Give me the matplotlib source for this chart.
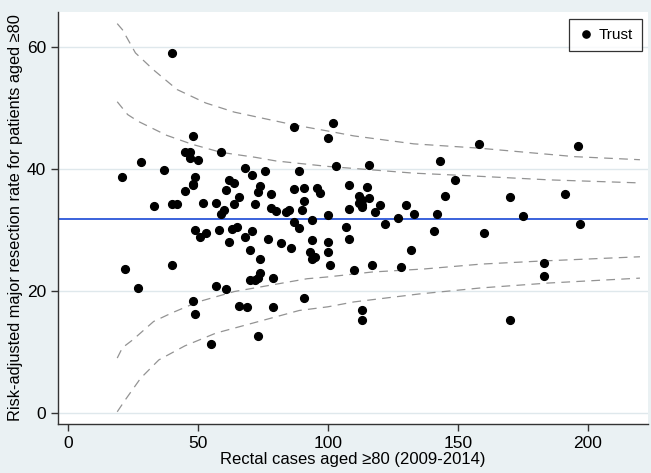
import matplotlib
matplotlib.use("Agg")
import matplotlib.pyplot as plt
from matplotlib.lines import Line2D

plt.rcParams['font.family'] = ['Liberation Sans', 'DejaVu Sans']

# === data ===
cases = [40, 21, 28, 37, 48, 45, 47, 47, 50, 49, 59, 68, 71, 76, 87, 89, 100, 102, 103, 116,
         143, 149, 158, 196, 62, 64,
         48, 48, 45, 33, 40, 42, 52, 57, 60, 59, 61, 66, 64, 72, 73, 74, 78, 78, 80, 84, 85,
         87, 91, 91, 90, 96, 97, 94, 100, 108, 115, 112, 113, 116, 112, 113, 113, 120, 108,
         118, 130, 133, 127, 145, 142, 170, 175, 191,
         87, 89, 122, 107, 141, 160, 197, 49, 51, 53, 58, 62, 63, 65, 68, 71, 70, 74, 77, 82,
         86, 94, 93, 94, 95, 100, 100, 101, 108, 110, 117, 128, 132, 183, 22, 40,
         27, 48, 49, 55, 57, 61, 66, 69, 73, 79, 91, 70, 72, 73, 74, 79, 113, 113, 170, 183]
rates = [59.0, 38.7, 41.1, 39.8, 45.4, 42.8, 42.8, 41.8, 41.5, 38.6, 42.8, 40.2, 39.0, 39.7,
         46.8, 39.7, 45.0, 47.5, 40.4, 40.7, 41.3, 38.2, 44.1, 43.7, 38.2, 37.7,
         37.6, 37.3, 36.4, 33.9, 34.2, 34.2, 34.4, 34.4, 33.2, 32.6, 36.5, 35.4, 34.3, 34.3,
         36.2, 37.2, 35.9, 33.6, 33.1, 33.0, 33.2, 36.7, 36.9, 34.8, 33.3, 36.8, 36.1, 31.6,
         32.5, 37.4, 37.0, 35.5, 34.9, 35.3, 34.4, 34.1, 33.8, 34.1, 33.4, 32.9, 34.0, 32.6,
         32.0, 35.5, 32.6, 35.4, 32.2, 35.9,
         31.3, 30.3, 30.9, 30.5, 29.8, 29.5, 31.0, 30.0, 28.8, 29.5, 30.0, 28.0, 30.2, 30.5,
         28.9, 29.8, 26.7, 25.2, 28.5, 27.9, 27.0, 28.3, 26.4, 25.2, 25.5, 28.0, 26.4, 24.3,
         28.5, 23.5, 24.3, 23.9, 26.7, 24.6, 23.6, 24.3,
         20.5, 18.3, 16.2, 11.3, 20.8, 20.4, 17.6, 17.4, 12.6, 17.4, 18.9, 21.8, 21.8, 22.1,
         23.0, 22.1, 16.9, 15.2, 15.2, 22.5]

mean_rate = 31.8

outer_up_n = [19, 21, 26, 33, 42, 53, 64, 76, 87, 100, 110, 133, 158, 195, 220]
outer_up = [63.8, 62.8, 59.0, 56.2, 53.0, 50.8, 49.3, 48.2, 47.2, 46.2, 45.4, 44.1, 43.4, 42.0, 41.5]

inner_up_n = [19, 23, 27, 38, 48, 59, 72, 80, 100, 133, 153, 185, 220]
inner_up = [51.0, 48.9, 47.8, 45.5, 44.0, 42.7, 41.9, 41.3, 40.4, 39.3, 38.9, 38.2, 37.7]

inner_lo_n = [19, 21, 25, 33, 40, 50, 64, 76, 92, 100, 117, 137, 159, 182, 220]
inner_lo = [9.0, 10.7, 12.0, 15.0, 16.4, 18.2, 19.9, 20.8, 22.0, 22.3, 23.1, 23.6, 24.4, 24.9, 25.6]

outer_lo_n = [19, 22, 28, 35, 45, 57, 70, 89, 100, 110, 135, 159, 185, 220]
outer_lo = [0.2, 2.1, 5.7, 8.7, 11.0, 13.1, 14.6, 16.8, 17.4, 18.2, 19.5, 20.5, 21.3, 22.1]

# === figure ===
bg = "#eaf1f3"
fig = plt.figure(figsize=(6.51, 4.73), dpi=100, facecolor=bg)
ax = fig.add_axes([0.089, 0.1036, 0.906, 0.871])
ax.set_facecolor("white")

for yv in [0, 20, 40, 60]:
    ax.axhline(yv, color="#dfe8ec", lw=1.0, zorder=0)

lim_style = dict(color="#939393", lw=0.9, dashes=(7, 5), zorder=1)
ax.plot(outer_up_n, outer_up, **lim_style)
ax.plot(inner_up_n, inner_up, **lim_style)
ax.plot(inner_lo_n, inner_lo, **lim_style)
ax.plot(outer_lo_n, outer_lo, **lim_style)

ax.axhline(mean_rate, color="#3a62dc", lw=1.4, zorder=2)

ax.plot(cases, rates, "o", color="black", ms=5.6, lw=0, zorder=3)

ax.set_xlim(-3.8, 223)
ax.set_ylim(-1.8, 65.7)
ax.set_xticks([0, 50, 100, 150, 200])
ax.set_yticks([0, 20, 40, 60])
ax.tick_params(axis="both", direction="out", length=5, width=1, color="#333333",
               labelsize=12.5, labelcolor="black")

for side in ["top", "right"]:
    ax.spines[side].set_visible(False)
for side in ["left", "bottom"]:
    ax.spines[side].set_color("#333333")
    ax.spines[side].set_linewidth(1.0)

ax.set_xlabel("Rectal cases aged ≥80 (2009-2014)", fontsize=12, labelpad=1)
ax.set_ylabel("Risk-adjusted major resection rate for patients aged ≥80", fontsize=11.8, labelpad=3)

handle = Line2D([], [], marker="o", color="black", ms=5.2, lw=0)
leg = ax.legend([handle], ["Trust"], loc="upper right", fontsize=11, frameon=True,
                fancybox=False, edgecolor="black", handletextpad=0.3, borderpad=0.6,
                handlelength=1.0, borderaxespad=0, bbox_to_anchor=(0.99, 0.983))
leg.get_frame().set_linewidth(0.9)

plt.savefig("out.png", dpi=100, facecolor=bg)
